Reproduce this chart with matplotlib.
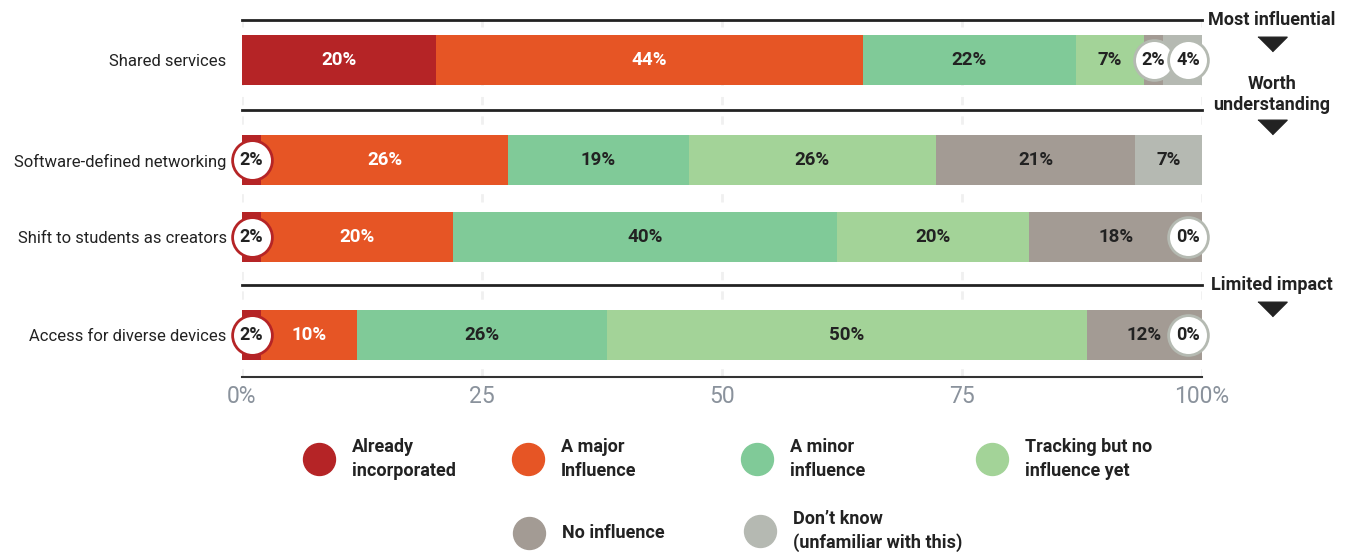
import matplotlib.pyplot as plt
import numpy as np

plt.rcParams['font.family'] = ['Roboto', 'DejaVu Sans']

# data
categories = ["Shared services", "Software-defined networking",
              "Shift to students as creators", "Access for diverse devices"]
series = ["Already\nincorporated", "A major\nInfluence", "A minor\ninfluence",
          "Tracking but no\ninfluence yet", "No influence",
          "Don\u2019t know\n(unfamiliar with this)"]
already = [20, 2, 2, 2]
major = [44, 26, 20, 10]
minor = [22, 19, 40, 26]
tracking = [7, 26, 20, 50]
no_infl = [2, 21, 18, 12]
dont_know = [4, 7, 0, 0]
tick_vals = [0, 25, 50, 75, 100]
tick_labels = ["0%", "25", "50", "75", "100%"]
group_notes = ["Most influential", "Worth\nunderstanding", "Limited impact"]

colors = ["#b52426", "#e65525", "#80ca98", "#a3d398", "#a39b94", "#b5b9b2"]
text_cols = ["white", "white", "#222222", "#222222", "#222222", "#222222"]

# layout (rows are not evenly spaced in the original)
row_y = [0, 1.3, 2.3, 3.58]
sep_y = [-0.52, 0.65, 2.92]
note_y = [-0.52, 0.45, 2.92]
tri_y = [-0.21, 0.87, 3.23]

W, H = 1349, 552
fig = plt.figure(figsize=(W / 100, H / 100), dpi=100)
ax = fig.add_axes([242 / W, (H - 377) / H, 960 / W, 367 / H])
ax.set_xlim(0, 100)
ax.set_ylim(4.12, -0.65)

vals = np.array([already, major, minor, tracking, no_infl, dont_know], float)
scaled = vals / vals.sum(axis=0) * 100

for x in tick_vals:
    ax.axvline(x, color="#f0f0f0", lw=2, ls=(0, (3, 4)), zorder=0)

left = np.zeros(len(categories))
for i in range(len(series)):
    ax.barh(row_y, scaled[i], left=left, height=0.65, color=colors[i], zorder=2)
    for j in range(len(categories)):
        v = vals[i, j]
        cx = left[j] + scaled[i, j] / 2
        if v >= 5:
            ax.text(cx, row_y[j], f"{v:.0f}%", ha="center", va="center",
                    color=text_cols[i], fontsize=13.5, fontweight="bold", zorder=5)
        else:
            if left[j] + scaled[i, j] > 99.9:
                cx = 100 - 1.45
            edge = colors[0] if i == 0 else "#b5bab2"
            ax.scatter(cx, row_y[j], s=820, facecolor="white", edgecolor=edge,
                       linewidth=2, zorder=4, clip_on=False)
            ax.text(cx, row_y[j], f"{v:.0f}%", ha="center", va="center",
                    color="#222222", fontsize=13, fontweight="bold", zorder=5)
    left += scaled[i]

for y in sep_y:
    ax.plot([0, 100], [y, y], color="#222222", lw=2, clip_on=False, zorder=3)

for note, ny, ty in zip(group_notes, note_y, tri_y):
    ax.text(107.3, ny, note, ha="center", va="center", fontsize=13,
            fontweight="bold", color="#222222", linespacing=1.2)
    ax.plot(107.3, ty, marker=[(-1, 0.5), (1, 0.5), (0, -0.5)], ms=21,
            color="#222222", clip_on=False)

ax.set_yticks(row_y)
ax.set_yticklabels(categories, fontsize=12, color="#222222")
ax.set_xticks(tick_vals)
ax.set_xticklabels(tick_labels, fontsize=16.5, color="#8a929c")
ax.tick_params(length=0)
ax.tick_params(axis="y", pad=11)
ax.tick_params(axis="x", pad=6)
for s in ["top", "right", "left"]:
    ax.spines[s].set_visible(False)
ax.spines["bottom"].set_color("#333333")
ax.spines["bottom"].set_linewidth(1.5)

# legend laid out by hand in pixel coordinates
lax = fig.add_axes([0, 0, 1, 1])
lax.set_xlim(0, W)
lax.set_ylim(H, 0)
lax.axis("off")
leg_pos = [(319, 459), (528, 459), (757, 459), (992, 459), (529, 533), (760, 531)]
for (lx, ly), name, c in zip(leg_pos, series, colors):
    lax.plot(lx, ly, "o", ms=23, color=c)
    lax.text(lx + 33, ly, name, ha="left", va="center", fontsize=13,
             fontweight="bold", color="#222222", linespacing=1.4)

fig.savefig("out.png", dpi=100)
